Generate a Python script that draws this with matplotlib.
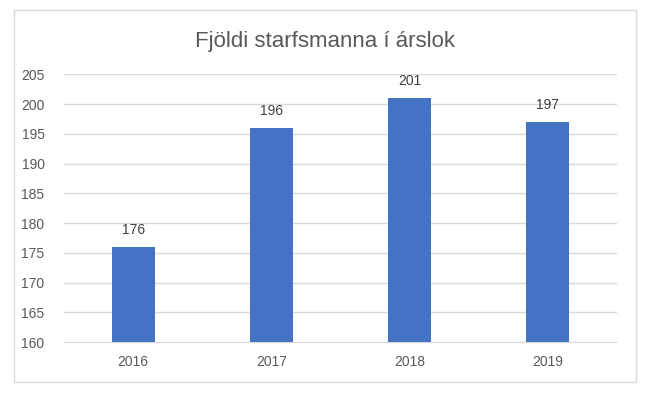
import matplotlib
matplotlib.use("Agg")
import matplotlib.pyplot as plt
from matplotlib.patches import Rectangle

years = ["2016", "2017", "2018", "2019"]
values = [176, 196, 201, 197]
title = "Fjöldi starfsmanna í árslok"
yticks = [160, 165, 170, 175, 180, 185, 190, 195, 200, 205]

plt.rcParams['font.family'] = ['Liberation Sans', 'DejaVu Sans']
txt = "#595959"

fig = plt.figure(figsize=(6.5, 3.96), dpi=100)
fig.patches.append(Rectangle((14/650, 1-382/396), (636-14)/650, (382-10)/396,
                             transform=fig.transFigure, fill=False,
                             edgecolor="#D9D9D9", linewidth=1.0))
ax = fig.add_axes([64/650, 1-342/396, (617-64)/650, (342-74.3)/396])
x = list(range(len(years)))
ax.bar(x, values, width=0.31, color="#4472C4", zorder=3)
ax.set_xlim(-0.5, len(years) - 0.5)
ax.set_ylim(160, 205)
ax.set_yticks(yticks)
ax.set_xticks(x)
ax.set_xticklabels(years)
ax.grid(axis="y", color="#D9D9D9", linewidth=1.0, zorder=0)
for s in ["top", "right", "left"]:
    ax.spines[s].set_visible(False)
ax.spines["bottom"].set_color("#D9D9D9")
ax.tick_params(axis="both", length=0, labelsize=10, colors=txt)
ax.tick_params(axis="y", pad=14)
ax.tick_params(axis="x", pad=9)
for xi, v in zip(x, values):
    ax.annotate(str(v), (xi, v), xytext=(0, 7), textcoords="offset points",
                ha="center", va="bottom", fontsize=10, color="#404040")
fig.text(325/650, 1-42/396, title, ha="center", va="center", fontsize=16, color=txt)
fig.savefig("out.png", dpi=100)
